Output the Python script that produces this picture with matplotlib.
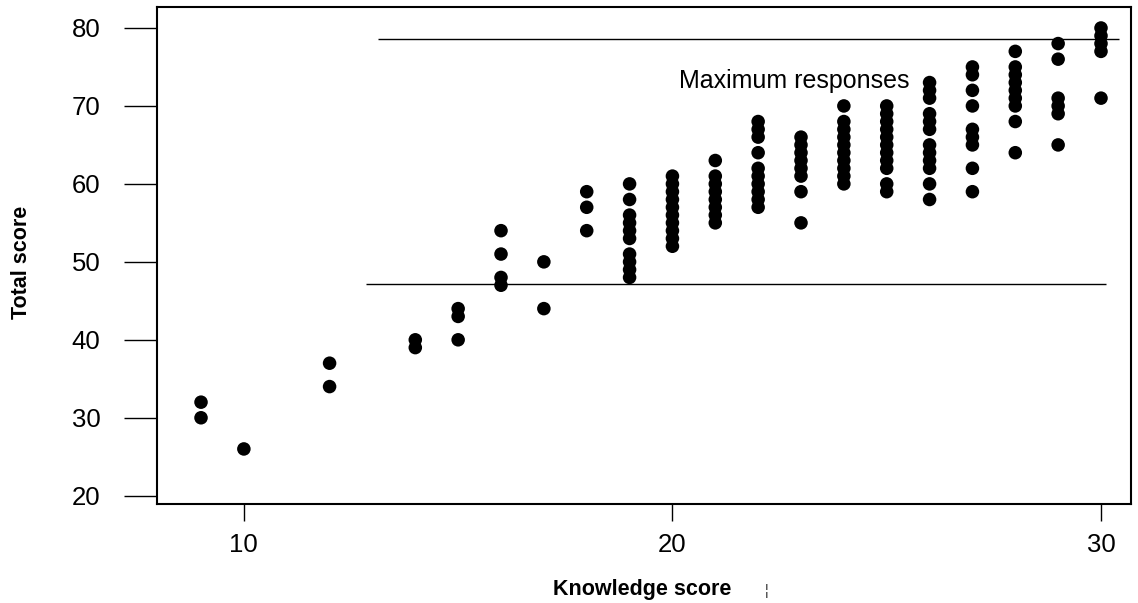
import matplotlib
matplotlib.use("Agg")
import matplotlib.pyplot as plt
from matplotlib import font_manager

# ---- data ----
knowledge = [9, 9,
             10,
             12, 12,
             14, 14,
             15, 15, 15,
             16, 16, 16, 16,
             17, 17,
             18, 18, 18,
             19, 19, 19, 19, 19, 19, 19, 19, 19, 19,
             20, 20, 20, 20, 20, 20, 20, 20, 20, 20,
             21, 21, 21, 21, 21, 21, 21, 21,
             22, 22, 22, 22, 22, 22, 22, 22, 22, 22,
             23, 23, 23, 23, 23, 23, 23, 23,
             24, 24, 24, 24, 24, 24, 24, 24, 24, 24,
             25, 25, 25, 25, 25, 25, 25, 25, 25, 25, 25,
             26, 26, 26, 26, 26, 26, 26, 26, 26, 26, 26, 26,
             27, 27, 27, 27, 27, 27, 27, 27, 27,
             28, 28, 28, 28, 28, 28, 28, 28, 28,
             29, 29, 29, 29, 29, 29,
             30, 30, 30, 30, 30]
total = [32, 30,
         26,
         37, 34,
         40, 39,
         44, 43, 40,
         54, 51, 48, 47,
         50, 44,
         59, 57, 54,
         60, 58, 56, 55, 54, 53, 51, 50, 49, 48,
         61, 60, 59, 58, 57, 56, 55, 54, 53, 52,
         63, 61, 60, 59, 58, 57, 56, 55,
         68, 67, 66, 64, 62, 61, 60, 59, 58, 57,
         66, 65, 64, 63, 62, 61, 59, 55,
         70, 68, 67, 66, 65, 64, 63, 62, 61, 60,
         70, 69, 68, 67, 66, 65, 64, 63, 62, 60, 59,
         73, 72, 71, 69, 68, 67, 65, 64, 63, 62, 60, 58,
         75, 74, 72, 70, 67, 66, 65, 62, 59,
         77, 75, 74, 73, 72, 71, 70, 68, 64,
         78, 76, 71, 70, 69, 65,
         80, 79, 78, 77, 71]

x_ticks = [10, 20, 30]
y_ticks = [20, 30, 40, 50, 60, 70, 80]

max_line_y = 78.6
max_line_x = (13.13, 30.42)
low_line_y = 47.17
low_line_x = (12.85, 30.12)
annotation = "Maximum responses"
annotation_xy = (20.15, 72.26)

# ---- fonts ----
names = {f.name for f in font_manager.fontManager.ttflist}
narrow = "Liberation Sans Narrow" if "Liberation Sans Narrow" in names else "Liberation Sans"
plt.rcParams["font.family"] = ["Liberation Sans", "DejaVu Sans"]

fig = plt.figure(figsize=(11.38, 6.03), dpi=100)
ax = fig.add_axes([157.3 / 1138, 1 - 504.3 / 603, (1131 - 157.3) / 1138, (504.3 - 6.7) / 603])

ax.scatter(knowledge, total, s=95, color="black", edgecolors="none", zorder=3)

ax.hlines(max_line_y, *max_line_x, color="black", linewidth=1.0)
ax.hlines(low_line_y, *low_line_x, color="black", linewidth=1.0)
ax.text(annotation_xy[0], annotation_xy[1], annotation, family=[narrow, "DejaVu Sans"],
        fontsize=18 if narrow == "Liberation Sans" else 21, ha="left", va="baseline")

ax.set_xlim(7.98, 30.7)
ax.set_ylim(18.9, 82.73)
ax.set_xticks(x_ticks)
ax.set_yticks(y_ticks)
tick_size = 18.5 if narrow == "Liberation Sans" else 19
ax.set_xticklabels([str(v) for v in x_ticks], family=[narrow, "DejaVu Sans"], fontsize=tick_size)
ax.set_yticklabels([str(v) for v in y_ticks], family=[narrow, "DejaVu Sans"], fontsize=tick_size)
ax.tick_params(axis="x", direction="out", length=12, width=1.0, pad=9)
ax.tick_params(axis="y", direction="out", length=24, width=1.0, pad=17)
for sp in ax.spines.values():
    sp.set_linewidth(1.5)

fig.text(22 / 1138, 1 - 262 / 603, "Total score", rotation=90, fontsize=15.5, fontweight="bold",
         ha="center", va="center")
fig.text(642 / 1138, 1 - 595 / 603, "Knowledge score", fontsize=15.5, fontweight="bold",
         ha="center", va="baseline")
fig.text(767 / 1138, 1 - 595 / 603, "¦", fontsize=10, color="#222222", ha="center", va="baseline")

fig.savefig("out.png", dpi=100)
